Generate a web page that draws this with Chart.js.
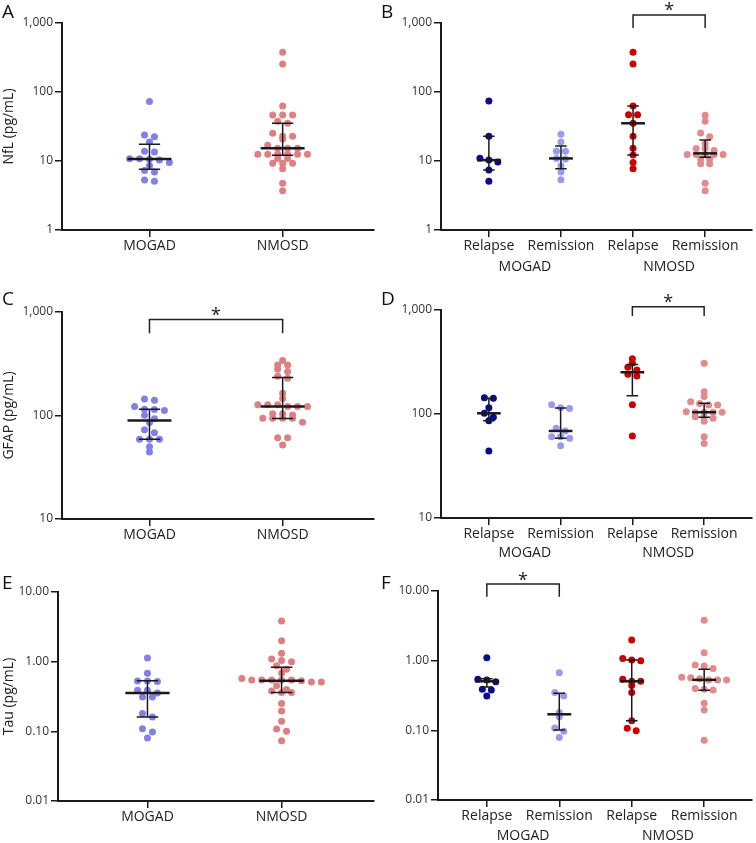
<!DOCTYPE html>
<html>
<head>
<meta charset="utf-8">
<script src="https://cdn.jsdelivr.net/npm/chart.js@4.4.0/dist/chart.umd.min.js"></script>
<style>
  body { margin: 0; background: #fff; font-family: 'Open Sans', sans-serif; }
  #wrap { position: relative; width: 756px; height: 843px; overflow: hidden; }
  canvas { position: absolute; }
  .tag { position: absolute; font-size: 19px; line-height: 1; color: #111; }
</style>
</head>
<body>
<div id="wrap">
  <canvas id="cA" width="378" height="280" style="left:0;top:0"></canvas>
  <canvas id="cB" width="378" height="280" style="left:378px;top:0"></canvas>
  <canvas id="cC" width="378" height="280" style="left:0;top:280px"></canvas>
  <canvas id="cD" width="378" height="280" style="left:378px;top:280px"></canvas>
  <canvas id="cE" width="378" height="283" style="left:0;top:560px"></canvas>
  <canvas id="cF" width="378" height="283" style="left:378px;top:560px"></canvas>
  <div class="tag" style="left:2px;top:2px">A</div>
  <div class="tag" style="left:381px;top:2px">B</div>
  <div class="tag" style="left:2px;top:289px">C</div>
  <div class="tag" style="left:381px;top:289px">D</div>
  <div class="tag" style="left:2px;top:573px">E</div>
  <div class="tag" style="left:381px;top:573px">F</div>
</div>
<script>
// categories
const diseaseCats = ['MOGAD', 'NMOSD'];
const phaseCats = ['Relapse', 'Remission', 'Relapse', 'Remission'];
const groupCats = ['MOGAD', 'NMOSD'];

// y tick values
const ticksNfl = [1, 10, 100, 1000];
const ticksGfap = [10, 100, 1000];
const ticksTau = [0.01, 0.1, 1, 10];

// NfL (pg/mL)
const nflMogad = [73, 23.8, 22.5, 18.8, 13.8, 13.5, 10.8, 10.8, 10.6, 10.3, 9.5, 8.5, 7.3, 6.9, 5.3, 5.1];
const nflNmosd = [376, 255, 62.7, 46.4, 46.4, 46.4, 37.6, 35.2, 25.2, 22.8, 22.8, 20.8, 16.9, 15.3, 15.3, 15.3,
  12.5, 12.5, 12.5, 12.5, 12.5, 12.5, 10.9, 10.9, 9.3, 9.3, 9.3, 7.7, 4.75, 3.7];
const nflMogadRel = [74, 22.8, 11.0, 10.3, 9.7, 7.4, 5.1];
const nflMogadRem = [24.4, 18.9, 13.8, 13.8, 10.9, 10.7, 8.5, 6.9, 5.35];
const nflNmosdRel = [376, 255, 62.7, 46.9, 46.9, 35.2, 22.8, 15.3, 12.2, 9.5, 7.7];
const nflNmosdRem = [45.9, 37.6, 25.5, 22.5, 17.8, 15.2, 15.2, 14.2, 12.4, 12.4, 12.4, 12.4, 12.4, 10.7, 10.7, 9.1, 9.1, 4.75, 3.7];

// GFAP (pg/mL)
const gfapMogad = [144, 140.6, 122, 115, 114, 112, 100.7, 93, 85.7, 72.8, 68, 59, 59, 59, 49.9, 44.3];
const gfapNmosd = [340, 308, 308, 280, 266, 240, 229, 164, 146, 127, 127, 127, 122, 122, 122, 104, 104, 101,
  94, 94, 94, 94, 86, 61, 61, 52];
const gfapMogadRel = [143, 142, 115, 101.6, 93, 86, 44];
const gfapMogadRem = [123, 115, 113, 73, 68.7, 60.5, 60.5, 58.5, 49.6];
const gfapNmosdRel = [340, 309, 281, 265, 241, 232, 123, 61.4];
const gfapNmosdRem = [307, 164, 147, 131, 126, 122, 122, 105, 104, 104, 104, 104, 94, 93, 91, 85, 60.5, 52];

// Tau (pg/mL)
const tauMogad = [1.13, 0.68, 0.53, 0.53, 0.52, 0.39, 0.39, 0.355, 0.31, 0.31, 0.18, 0.16, 0.109, 0.098, 0.080];
const tauNmosd = [3.84, 2.0, 1.32, 1.09, 1.04, 1.0, 0.875, 0.776, 0.69, 0.575, 0.545, 0.545, 0.545, 0.545, 0.545,
  0.533, 0.51, 0.51, 0.45, 0.40, 0.38, 0.36, 0.36, 0.25, 0.196, 0.139, 0.108, 0.10, 0.073];
const tauMogadRel = [1.10, 0.54, 0.53, 0.50, 0.39, 0.38, 0.31];
const tauMogadRem = [0.67, 0.35, 0.31, 0.18, 0.157, 0.108, 0.097, 0.079];
const tauNmosdRel = [1.98, 1.07, 1.02, 1.0, 0.54, 0.506, 0.506, 0.44, 0.35, 0.137, 0.107, 0.099];
const tauNmosdRem = [3.8, 1.30, 0.87, 0.84, 0.77, 0.58, 0.57, 0.55, 0.53, 0.53, 0.53, 0.40, 0.39, 0.38, 0.244, 0.196, 0.072];

// median, lower quartile, upper quartile per group
const nflStats = [[10.7, 7.6, 17.5], [15.3, 12.1, 35.2]];
const nflStatsSub = [[10.3, 7.4, 22.8], [10.9, 7.7, 16.5], [35.2, 12.2, 62.7], [12.9, 11.3, 20.2]];
const gfapStats = [[89.6, 59, 115], [122, 93.6, 233]];
const gfapStatsSub = [[101.6, 86, 142], [68.7, 58.4, 114], [252, 150, 300], [104, 93, 127]];
const tauStats = [[0.355, 0.16, 0.533], [0.533, 0.36, 0.83]];
const tauStatsSub = [[0.506, 0.42, 0.55], [0.17, 0.101, 0.34], [0.506, 0.137, 1.02], [0.53, 0.376, 0.75]];

const colDisease = ['#8080e8', '#de8082'];
const colPhase = ['#0a0a8c', '#9a9aef', '#cc0000', '#e08b8c'];

Chart.defaults.font.family = "'Open Sans', sans-serif";
Chart.defaults.color = '#222';

// spread points of similar value side by side, like a scatter dot plot
function swarm(vals, cat, pxX, pxDec, slot) {
  const sorted = vals.slice().sort((a, b) => b - a);
  const rows = [];
  let row = [], rowTop = 0;
  sorted.forEach(v => {
    const y = Math.log10(v) * pxDec;
    if (row.length && rowTop - y < 4) row.push(v);
    else { if (row.length) rows.push(row); row = [v]; rowTop = y; }
  });
  if (row.length) rows.push(row);
  const pts = [];
  rows.forEach(r => r.forEach((v, i) => pts.push({ x: cat + (i - (r.length - 1) / 2) * slot / pxX, y: v })));
  return pts;
}

const statsPlugin = {
  id: 'medianIqr',
  afterDatasetsDraw(chart) {
    const ctx = chart.ctx, xs = chart.scales.x, ys = chart.scales.y;
    ctx.save();
    chart.data.datasets.forEach((ds, i) => {
      const c = i + 1, s = ds.stats;
      const xc = xs.getPixelForValue(c);
      const hw = xs.getPixelForValue(c + 0.165) - xc;
      const cw = xs.getPixelForValue(c + 0.08) - xc;
      const ym = ys.getPixelForValue(s[0]), yl = ys.getPixelForValue(s[1]), yh = ys.getPixelForValue(s[2]);
      ctx.strokeStyle = '#1a1a1a';
      ctx.lineWidth = 1.5;
      ctx.beginPath();
      ctx.moveTo(xc, yl); ctx.lineTo(xc, yh);
      ctx.moveTo(xc - cw, yl); ctx.lineTo(xc + cw, yl);
      ctx.moveTo(xc - cw, yh); ctx.lineTo(xc + cw, yh);
      ctx.stroke();
      ctx.lineWidth = 2.5;
      ctx.beginPath();
      ctx.moveTo(xc - hw, ym); ctx.lineTo(xc + hw, ym);
      ctx.stroke();
    });
    ctx.restore();
  }
};

const extrasPlugin = {
  id: 'extras',
  afterDraw(chart, args, opts) {
    const ctx = chart.ctx, xs = chart.scales.x, ys = chart.scales.y;
    ctx.save();
    if (opts.sig) {
      const s = opts.sig;
      const xa = xs.getPixelForValue(s.a), xb = xs.getPixelForValue(s.b);
      const yt = ys.getPixelForValue(s.top), yl = ys.getPixelForValue(s.leg);
      ctx.strokeStyle = '#222';
      ctx.lineWidth = 1.5;
      ctx.beginPath();
      ctx.moveTo(xa, yl); ctx.lineTo(xa, yt); ctx.lineTo(xb, yt); ctx.lineTo(xb, yl);
      ctx.stroke();
      ctx.fillStyle = '#222';
      ctx.font = "18px 'Open Sans'";
      ctx.textAlign = 'center';
      ctx.textBaseline = 'alphabetic';
      ctx.fillText('*', (xa + xb) / 2, yt + 1.5);
    }
    if (opts.groups) {
      ctx.fillStyle = '#222';
      ctx.font = "14px 'Open Sans'";
      ctx.textAlign = 'center';
      ctx.textBaseline = 'middle';
      opts.groups.forEach((g, i) => {
        ctx.fillText(g, xs.getPixelForValue(1.5 + 2 * i), chart.chartArea.bottom + opts.groupDy);
      });
    }
    ctx.restore();
  }
};

function makePanel(id, o) {
  const W = 378;
  const plotW = W - o.yW - o.padRight;
  const plotH = o.h - o.padTop - o.xH;
  const pxX = plotW / (o.xmax - o.xmin);
  const pxDec = plotH / Math.log10(o.ymax / o.ymin);
  const datasets = o.groups.map((vals, i) => ({
    data: swarm(vals, i + 1, pxX, pxDec, o.slot),
    backgroundColor: o.colors[i],
    pointRadius: 3.5,
    pointBorderWidth: 0,
    stats: o.stats[i]
  }));
  const config = {
    type: 'scatter',
    data: { datasets: datasets },
    options: {
      responsive: false,
      animation: false,
      events: [],
      layout: { padding: { top: o.padTop, right: o.padRight, bottom: 0, left: 0 } },
      plugins: {
        legend: { display: false },
        tooltip: { enabled: false },
        extras: { sig: o.sig, groups: o.groupLabels, groupDy: o.groupDy }
      },
      scales: {
        x: {
          type: 'linear',
          min: o.xmin,
          max: o.xmax,
          afterBuildTicks: s => { s.ticks = o.cats.map((c, i) => ({ value: i + 1 })); },
          afterFit: s => { s.height = o.xH; },
          ticks: {
            autoSkip: false, maxRotation: 0, padding: 1,
            font: { size: 14 }, color: '#222',
            callback: v => o.cats[Math.round(v) - 1]
          },
          grid: { drawOnChartArea: false, drawTicks: true, tickLength: 7, color: '#1a1a1a', lineWidth: 1.5 },
          border: { display: true, color: '#1a1a1a', width: 2 }
        },
        y: {
          type: 'logarithmic',
          min: o.ymin,
          max: o.ymax,
          afterBuildTicks: s => { s.ticks = o.yTicks.map(v => ({ value: v })); },
          afterFit: s => { s.width = o.yW; },
          ticks: {
            autoSkip: false, padding: 2,
            font: { size: 12 }, color: '#333',
            callback: v => o.fmt(v)
          },
          grid: { drawOnChartArea: false, drawTicks: true, tickLength: 7, color: '#1a1a1a', lineWidth: 1.5 },
          border: { display: true, color: '#1a1a1a', width: 2 },
          title: { display: !!o.yTitle, text: o.yTitle, font: { size: 14 }, color: '#222', padding: { top: 1, bottom: 0 } }
        }
      }
    },
    plugins: [statsPlugin, extrasPlugin]
  };
  return new Chart(document.getElementById(id), config);
}

const fmtComma = v => v.toLocaleString('en-US');
const fmtTwo = v => v.toFixed(2);

makePanel('cA', {
  h: 280, padTop: 23, xH: 50, yW: 62, padRight: 2, xmin: 0.343, xmax: 2.686, slot: 10,
  ymin: 1, ymax: 1000, yTicks: ticksNfl, fmt: fmtComma, yTitle: 'NfL (pg/mL)',
  cats: diseaseCats, groups: [nflMogad, nflNmosd], colors: colDisease, stats: nflStats
});
makePanel('cB', {
  h: 280, padTop: 23, xH: 50, yW: 63, padRight: 3, xmin: 0.336, xmax: 4.65, slot: 9,
  ymin: 1, ymax: 1000, yTicks: ticksNfl, fmt: fmtComma,
  cats: phaseCats, groups: [nflMogadRel, nflMogadRem, nflNmosdRel, nflNmosdRem], colors: colPhase, stats: nflStatsSub,
  sig: { a: 3, b: 4, top: 1306, leg: 847 }, groupLabels: groupCats, groupDy: 37
});
makePanel('cC', {
  h: 280, padTop: 32, xH: 41, yW: 62, padRight: 2, xmin: 0.343, xmax: 2.686, slot: 10,
  ymin: 10, ymax: 1000, yTicks: ticksGfap, fmt: fmtComma, yTitle: 'GFAP (pg/mL)',
  cats: diseaseCats, groups: [gfapMogad, gfapNmosd], colors: colDisease, stats: gfapStats,
  sig: { a: 1, b: 2, top: 845, leg: 622 }
});
makePanel('cD', {
  h: 280, padTop: 30, xH: 42, yW: 63, padRight: 3, xmin: 0.333, xmax: 4.667, slot: 9,
  ymin: 10, ymax: 1000, yTicks: ticksGfap, fmt: fmtComma,
  cats: phaseCats, groups: [gfapMogadRel, gfapMogadRem, gfapNmosdRel, gfapNmosdRem], colors: colPhase, stats: gfapStatsSub,
  sig: { a: 3, b: 4, top: 1077, leg: 875 }, groupLabels: groupCats, groupDy: 35
});
makePanel('cE', {
  h: 283, padTop: 32, xH: 42, yW: 58, padRight: 2, xmin: 0.333, xmax: 2.689, slot: 10,
  ymin: 0.01, ymax: 10, yTicks: ticksTau, fmt: fmtTwo, yTitle: 'Tau (pg/mL)',
  cats: diseaseCats, groups: [tauMogad, tauNmosd], colors: colDisease, stats: tauStats
});
makePanel('cF', {
  h: 283, padTop: 31, xH: 43, yW: 60, padRight: 3, xmin: 0.326, xmax: 4.66, slot: 9,
  ymin: 0.01, ymax: 10, yTicks: ticksTau, fmt: fmtTwo,
  cats: phaseCats, groups: [tauMogadRel, tauMogadRem, tauNmosdRel, tauNmosdRem], colors: colPhase, stats: tauStatsSub,
  sig: { a: 1, b: 2, top: 12.6, leg: 8.28 }, groupLabels: groupCats, groupDy: 36
});
</script>
</body>
</html>
